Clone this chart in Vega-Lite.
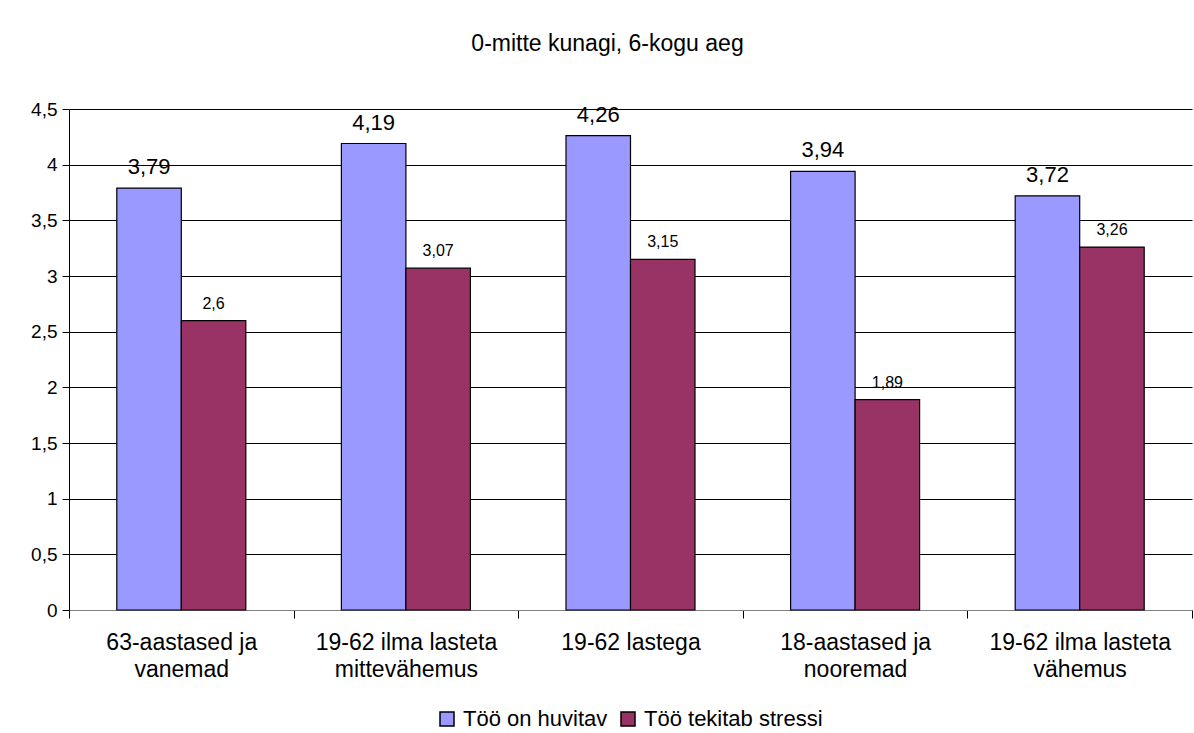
{
  "$schema": "https://vega.github.io/schema/vega-lite/v6.json",
  "autosize": "none",
  "width": 1123,
  "height": 501,
  "padding": {"left": 69, "top": 109, "right": 2, "bottom": 123},
  "background": "white",
  "config": {
    "font": "Liberation Sans",
    "locale": {"number": {"decimal": ",", "thousands": " ", "grouping": [3], "currency": ["", " €"]}},
    "view": {"stroke": null},
    "axis": {"labelColor": "black", "domainColor": "black", "tickColor": "black", "labelFont": "Liberation Sans"}
  },
  "title": {
    "text": "0-mitte kunagi, 6-kogu aeg",
    "fontSize": 23,
    "fontWeight": "normal",
    "font": "Liberation Sans",
    "color": "black",
    "offset": 44,
    "dx": -23
  },
  "data": {
    "values": [
      {"group": "63-aastased ja\nvanemad", "series": "Töö on huvitav", "value": 3.79},
      {"group": "63-aastased ja\nvanemad", "series": "Töö tekitab stressi", "value": 2.6},
      {"group": "19-62 ilma lasteta\nmittevähemus", "series": "Töö on huvitav", "value": 4.19},
      {"group": "19-62 ilma lasteta\nmittevähemus", "series": "Töö tekitab stressi", "value": 3.07},
      {"group": "19-62 lastega", "series": "Töö on huvitav", "value": 4.26},
      {"group": "19-62 lastega", "series": "Töö tekitab stressi", "value": 3.15},
      {"group": "18-aastased ja\nnooremad", "series": "Töö on huvitav", "value": 3.94},
      {"group": "18-aastased ja\nnooremad", "series": "Töö tekitab stressi", "value": 1.89},
      {"group": "19-62 ilma lasteta\nvähemus", "series": "Töö on huvitav", "value": 3.72},
      {"group": "19-62 ilma lasteta\nvähemus", "series": "Töö tekitab stressi", "value": 3.26}
    ]
  },
  "encoding": {
    "x": {
      "field": "group",
      "type": "nominal",
      "sort": null,
      "scale": {"paddingInner": 0, "paddingOuter": 0},
      "axis": {
        "title": null,
        "labelAngle": 0,
        "labelExpr": "split(datum.label, '\\n')",
        "labelFontSize": 23,
        "labelLineHeight": 27,
        "labelPadding": 13,
        "labelLimit": 300,
        "tickBand": "extent",
        "tickSize": 8,
        "domainColor": "#808080",
        "grid": false
      }
    },
    "xOffset": {
      "field": "series",
      "type": "nominal",
      "sort": ["Töö on huvitav", "Töö tekitab stressi"],
      "scale": {"paddingInner": 0, "paddingOuter": 0.741}
    },
    "y": {
      "field": "value",
      "type": "quantitative",
      "scale": {"domain": [0, 4.5], "nice": false},
      "axis": {
        "title": null,
        "values": [0, 0.5, 1, 1.5, 2, 2.5, 3, 3.5, 4, 4.5],
        "format": ".1~f",
        "labelFontSize": 19,
        "labelPadding": 5,
        "tickSize": 7,
        "grid": true,
        "gridColor": "black",
        "gridOpacity": 1,
        "gridWidth": 1
      }
    }
  },
  "layer": [
    {
      "mark": {"type": "bar", "stroke": "black", "strokeWidth": 1.2},
      "encoding": {
        "color": {
          "field": "series",
          "type": "nominal",
          "sort": ["Töö on huvitav", "Töö tekitab stressi"],
          "scale": {"domain": ["Töö on huvitav", "Töö tekitab stressi"], "range": ["#9999FF", "#993366"]},
          "legend": {
            "title": null,
            "orient": "none",
            "legendX": 367,
            "legendY": 599,
            "direction": "horizontal",
            "symbolType": "square",
            "symbolSize": 196,
            "symbolStrokeColor": "black",
            "symbolStrokeWidth": 1.5,
            "symbolOpacity": 1,
            "labelFontSize": 22,
            "labelColor": "black",
            "labelOffset": 5,
            "columnPadding": 9,
            "labelLimit": 400
          }
        }
      }
    },
    {
      "transform": [{"filter": "datum.series === 'Töö on huvitav'"}],
      "mark": {"type": "text", "baseline": "bottom", "dy": -9, "color": "black", "font": "Liberation Sans", "fontSize": 22},
      "encoding": {
        "text": {"field": "value", "type": "quantitative", "format": ".2~f"}
      }
    },
    {
      "transform": [{"filter": "datum.series === 'Töö tekitab stressi'"}],
      "mark": {"type": "text", "baseline": "bottom", "dy": -9, "color": "black", "font": "Liberation Sans", "fontSize": 16},
      "encoding": {
        "text": {"field": "value", "type": "quantitative", "format": ".2~f"}
      }
    }
  ]
}
